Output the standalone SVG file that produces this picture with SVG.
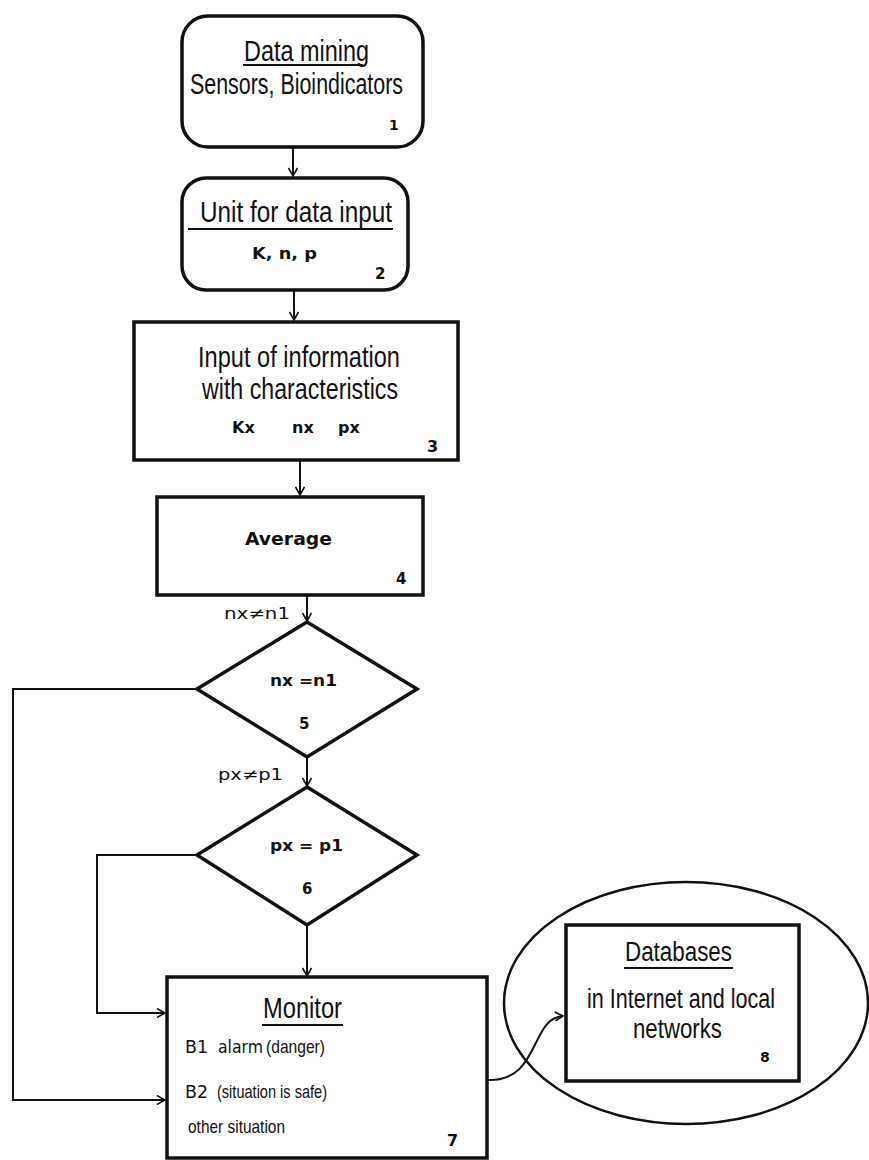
<svg xmlns="http://www.w3.org/2000/svg" width="869" height="1160" viewBox="0 0 869 1160">
<style>
.box{fill:none;stroke:#111;stroke-width:3.5}
.con{fill:none;stroke:#111;stroke-width:2}
.t{font-family:"Liberation Sans",Arial,sans-serif;fill:#111}
.b{font-family:"DejaVu Sans",Verdana,sans-serif;font-weight:bold;fill:#111}
.v{font-family:"DejaVu Sans",Verdana,sans-serif;fill:#111}
.ul{stroke:#111;stroke-width:1.8}
</style>
<defs>
<marker id="arr" viewBox="0 0 10 10" refX="9" refY="5" markerWidth="10" markerHeight="10" markerUnits="userSpaceOnUse" orient="auto">
<path d="M1,0.5 L9,5 L1,9.5" fill="none" stroke="#111" stroke-width="1.6"/>
</marker>
</defs>
<rect width="869" height="1160" fill="#fff"/>

<g id="connectors">
<line class="con" x1="293" y1="147" x2="293" y2="176" marker-end="url(#arr)"/>
<line class="con" x1="294" y1="290" x2="294" y2="320" marker-end="url(#arr)"/>
<line class="con" x1="300" y1="460" x2="300" y2="495" marker-end="url(#arr)"/>
<line class="con" x1="307" y1="595" x2="307" y2="621" marker-end="url(#arr)"/>
<line class="con" x1="307" y1="757" x2="307" y2="786" marker-end="url(#arr)"/>
<line class="con" x1="307" y1="925" x2="307" y2="976" marker-end="url(#arr)"/>
<polyline class="con" points="197,689 13,689 13,1100 165,1100" marker-end="url(#arr)"/>
<polyline class="con" points="197,855 97,855 97,1013 165,1013" marker-end="url(#arr)"/>
<path class="con" d="M488,1080 C540,1082 530,1018 563,1016" marker-end="url(#arr)"/>
<text class="v" x="224" y="619" font-size="16" textLength="66" lengthAdjust="spacingAndGlyphs">nx≠n1</text>
<text class="v" x="218" y="780" font-size="16" textLength="65" lengthAdjust="spacingAndGlyphs">px≠p1</text>
</g>

<g id="node1">
<rect class="box" x="182" y="16" width="241" height="131" rx="26"/>
<text class="t" x="244" y="61" font-size="29" textLength="125" lengthAdjust="spacingAndGlyphs">Data mining</text>
<line class="ul" x1="243" y1="65" x2="363" y2="65"/>
<text class="t" x="190" y="94" font-size="29" textLength="213" lengthAdjust="spacingAndGlyphs">Sensors, Bioindicators</text>
<text class="b" x="389" y="130" font-size="14">1</text>
</g>

<g id="node2">
<rect class="box" x="182" y="178" width="226" height="112" rx="24"/>
<text class="t" x="200" y="222" font-size="30" textLength="192" lengthAdjust="spacingAndGlyphs">Unit  for data input</text>
<line class="ul" x1="188" y1="229" x2="393" y2="229"/>
<text class="b" x="252" y="259" font-size="16" textLength="65" lengthAdjust="spacingAndGlyphs">K, n, p</text>
<text class="b" x="375" y="279" font-size="15">2</text>
</g>

<g id="node3">
<rect class="box" x="134" y="322" width="324" height="138"/>
<text class="t" x="198" y="367" font-size="29" textLength="202" lengthAdjust="spacingAndGlyphs">Input of information</text>
<text class="t" x="202" y="399" font-size="29" textLength="196" lengthAdjust="spacingAndGlyphs">with characteristics</text>
<text class="b" x="232" y="433" font-size="16">Kx</text>
<text class="b" x="292" y="433" font-size="16">nx</text>
<text class="b" x="338" y="433" font-size="16">px</text>
<text class="b" x="427" y="452" font-size="16">3</text>
</g>

<g id="node4">
<rect class="box" x="157" y="497" width="266" height="98"/>
<text class="b" x="245" y="545" font-size="17" textLength="87" lengthAdjust="spacingAndGlyphs">Average</text>
<text class="b" x="396" y="584" font-size="15">4</text>
</g>

<g id="node5">
<polygon class="box" points="307,622 417,689 307,757 197,689"/>
<text class="b" x="270" y="686" font-size="16" textLength="67" lengthAdjust="spacingAndGlyphs">nx =n1</text>
<text class="b" x="299" y="729" font-size="15">5</text>
</g>

<g id="node6">
<polygon class="box" points="307,787 417,855 307,925 197,855"/>
<text class="b" x="270" y="851" font-size="16" textLength="73" lengthAdjust="spacingAndGlyphs">px = p1</text>
<text class="b" x="302" y="894" font-size="15">6</text>
</g>

<g id="node7">
<rect class="box" x="167" y="977" width="320" height="181"/>
<text class="t" x="263" y="1018" font-size="30" textLength="79" lengthAdjust="spacingAndGlyphs">Monitor</text>
<line class="ul" x1="262" y1="1025" x2="343" y2="1025"/>
<text class="v" x="185" y="1053" font-size="17" textLength="23" lengthAdjust="spacingAndGlyphs">B1</text>
<text class="v" x="218" y="1053" font-size="18" textLength="45" lengthAdjust="spacingAndGlyphs">alarm</text>
<text class="t" x="266" y="1053" font-size="19" textLength="59" lengthAdjust="spacingAndGlyphs">(danger)</text>
<text class="v" x="185" y="1098" font-size="17" textLength="23" lengthAdjust="spacingAndGlyphs">B2</text>
<text class="t" x="217" y="1098" font-size="19" textLength="110" lengthAdjust="spacingAndGlyphs">(situation is safe)</text>
<text class="t" x="188" y="1133" font-size="19" textLength="97" lengthAdjust="spacingAndGlyphs">other situation</text>
<text class="b" x="447" y="1146" font-size="16">7</text>
</g>

<g id="node8">
<ellipse cx="686" cy="1003" rx="182" ry="121" fill="none" stroke="#111" stroke-width="2.5"/>
<rect class="box" x="566" y="925" width="233" height="156"/>
<text class="t" x="625" y="961" font-size="27" textLength="107" lengthAdjust="spacingAndGlyphs">Databases</text>
<line class="ul" x1="624" y1="968" x2="733" y2="968"/>
<text class="t" x="587" y="1008" font-size="27" textLength="188" lengthAdjust="spacingAndGlyphs">in Internet and local</text>
<text class="t" x="633" y="1038" font-size="27" textLength="89" lengthAdjust="spacingAndGlyphs">networks</text>
<text class="b" x="760" y="1062" font-size="14">8</text>
</g>
</svg>
